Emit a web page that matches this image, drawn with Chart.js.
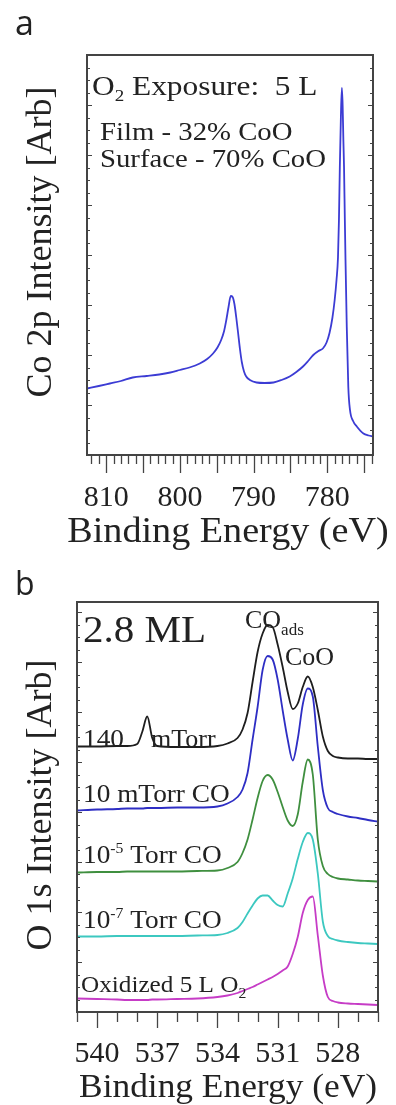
<!DOCTYPE html>
<html>
<head>
<meta charset="utf-8">
<script src="https://cdn.jsdelivr.net/npm/chart.js@4.4.1/dist/chart.umd.min.js"></script>
<style>
  html, body { margin: 0; padding: 0; background: #ffffff; }
  canvas { position: absolute; left: 0; display: block; }
  #chartA { top: 0; }
  #chartB { top: 560px; }
</style>
</head>
<body>
<canvas id="chartA" width="396" height="560"></canvas>
<canvas id="chartB" width="396" height="545"></canvas>
<script>
// ---- Panel a: Co 2p spectrum after 5 L O2 exposure ----
const energyA = [
  812.6, 811.0, 809.5, 808.0, 806.4, 804.5, 802.8, 801.3, 800.0, 798.7,
  797.3, 796.3, 795.5, 794.9, 794.4, 794.0, 793.7, 793.4, 793.1, 792.85,
  792.6, 792.35, 792.1, 791.85, 791.6, 791.3, 791.0, 790.5, 789.6, 788.5,
  787.3, 786.2, 785.1, 784.2, 783.3, 782.6, 781.9, 781.2, 780.6, 780.1,
  779.7, 779.3, 779.0, 778.75, 778.55, 778.42, 778.3, 778.15, 778.02, 777.92,
  777.82, 777.73, 777.62, 777.53, 777.36, 777.15, 776.92, 776.5, 776.0, 775.1,
  774.4, 773.8
];
const co2pIntensity = [
  133, 138, 143, 148, 155, 158, 161, 165, 170, 175,
  183, 192, 203, 215, 230, 248, 270, 296, 318, 316,
  302, 275, 244, 212, 186, 167, 157, 150, 145, 144,
  145, 150, 157, 166, 177, 188, 200, 208, 213, 225,
  244, 275, 310, 350, 395, 470, 576, 680, 734, 700,
  630, 576, 470, 390, 257, 136, 90, 68, 57, 43,
  39, 37
];
const tickLabelsA = [810, 800, 790, 780];

// ---- Panel b: O 1s spectra, 2.8 ML film ----
const energyB = [
  541, 540, 539, 538.5, 538, 537.75, 537.5, 537.25, 537, 536,
  535, 534, 533.5, 533, 532.75, 532.5, 532.25, 532, 531.75, 531.5,
  531.25, 531, 530.75, 530.5, 530.25, 530, 529.75, 529.5, 529.25, 529,
  528.75, 528.5, 528.25, 528, 527.5, 527, 526.5, 526
];
const o1s140mTorr = [
  531, 531, 532, 532, 536, 560, 591, 548, 532, 530,
  530, 532, 537, 548, 565, 598, 660, 720, 757, 774,
  770, 735, 690, 640, 606, 617, 650, 671, 650, 604,
  551, 522, 512, 509, 507, 507, 506, 506
];
const o1s10mTorr = [
  403, 405, 406, 407, 407, 407, 408, 408, 408, 409,
  409, 411, 417, 430, 445, 478, 545, 610, 684, 712,
  705, 665, 603, 545, 503, 546, 615, 647, 631, 531,
  444, 408, 400, 396, 391, 388, 384, 381
];
const o1s1e5Torr = [
  279, 280, 280, 281, 281, 281, 281, 281, 281, 281,
  282, 283, 288, 300, 318, 345, 385, 428, 462, 474,
  465, 440, 410, 383, 372, 395, 460, 505, 475, 345,
  292, 276, 270, 267, 265, 263, 262, 261
];
const o1s1e7Torr = [
  151, 151, 152, 152, 152, 152, 152, 152, 152, 152,
  153, 154, 158, 168, 180, 197, 213, 227, 233, 233,
  223, 214, 211, 237, 267, 306, 340, 358, 345, 277,
  181, 152, 146, 143, 140, 138, 137, 136
];
const o1sOxidized = [
  27, 26, 25, 24, 24, 24, 24, 25, 25, 26,
  27, 30, 33, 38, 42, 46, 50, 55, 60, 65,
  70, 76, 83, 91, 116, 150, 198, 224, 231, 153,
  73, 30, 22, 19, 17, 16, 15, 14
];
const tickLabelsB = [540, 537, 534, 531, 528];

const SERIF = '"Liberation Serif", "Times New Roman", serif';
const SANS = '"Open Sans", "Noto Sans", sans-serif';
const INK = '#222222';
const FRAME = '#444444';

const pts = (xs, ys) => xs.map((x, i) => ({ x: x, y: ys[i] }));

// Draws a run of text pieces (for sub/superscripts), optionally widened by sx.
function textRuns(ctx, x, y, parts, sx) {
  ctx.save();
  ctx.translate(x, y);
  ctx.scale(sx || 1, 1);
  ctx.fillStyle = INK;
  ctx.textBaseline = 'alphabetic';
  ctx.textAlign = 'left';
  let cx = 0;
  for (const p of parts) {
    ctx.font = p.size + 'px ' + (p.family || SERIF);
    ctx.fillText(p.t, cx, p.dy || 0);
    cx += ctx.measureText(p.t).width;
  }
  ctx.restore();
}

function centered(ctx, s, x, y, size, sx) {
  ctx.save();
  ctx.translate(x, y);
  ctx.scale(sx || 1, 1);
  ctx.fillStyle = INK;
  ctx.font = size + 'px ' + SERIF;
  ctx.textAlign = 'center';
  ctx.textBaseline = 'alphabetic';
  ctx.fillText(s, 0, 0);
  ctx.restore();
}

function verticalTitle(ctx, s, x, yCenter, size) {
  ctx.save();
  ctx.translate(x, yCenter);
  ctx.rotate(-Math.PI / 2);
  ctx.fillStyle = INK;
  ctx.font = size + 'px ' + SERIF;
  ctx.textAlign = 'center';
  ctx.textBaseline = 'alphabetic';
  ctx.fillText(s, 0, 0);
  ctx.restore();
}

function seg(ctx, x1, y1, x2, y2) {
  ctx.beginPath();
  ctx.moveTo(x1, y1);
  ctx.lineTo(x2, y2);
  ctx.stroke();
}

// Frame, bottom ticks (long ones where isMajor), small inward y ticks.
function drawFrame(chart, xFrom, xTo, isMajor, longLen, shortLen, yMax) {
  const { ctx, chartArea: a, scales: { x, y } } = chart;
  ctx.save();
  ctx.strokeStyle = FRAME;
  ctx.lineWidth = 1.3;
  for (let v = xFrom; v <= xTo; v++) {
    const px = Math.round(x.getPixelForValue(v)) + 0.5;
    seg(ctx, px, a.bottom, px, a.bottom + (isMajor(v) ? longLen : shortLen));
  }
  ctx.lineWidth = 1;
  for (let v = 25; v < yMax; v += 25) {
    const py = Math.round(y.getPixelForValue(v)) + 0.5;
    const len = v % 100 === 0 ? 5 : 3;
    seg(ctx, a.left, py, a.left + len, py);
    seg(ctx, a.right, py, a.right - len, py);
  }
  ctx.lineWidth = 2;
  ctx.strokeRect(a.left, a.top, a.right - a.left, a.bottom - a.top);
  ctx.restore();
}

const decorA = {
  id: 'decorA',
  afterDraw(chart) {
    const { ctx, scales: { x } } = chart;
    drawFrame(chart, 774, 812, v => v % 5 === 0, 18, 9, 800);
    for (const t of tickLabelsA) centered(ctx, String(t), x.getPixelForValue(t), 506, 30, 1);
    centered(ctx, 'Binding Energy (eV)', 228, 542, 36, 1.06);
    verticalTitle(ctx, 'Co 2p Intensity [Arb]', 51, 242, 36);
    textRuns(ctx, 15, 35, [{ t: 'a', size: 34, family: SANS }]);
    textRuns(ctx, 92, 95, [
      { t: 'O', size: 28 }, { t: '2', size: 17, dy: 6 }, { t: ' Exposure:  5 L', size: 28 }
    ], 1.12);
    textRuns(ctx, 100, 140, [{ t: 'Film - 32% CoO', size: 25 }], 1.15);
    textRuns(ctx, 100, 167, [{ t: 'Surface - 70% CoO', size: 25 }], 1.15);
  }
};

const decorB = {
  id: 'decorB',
  afterDraw(chart) {
    const { ctx, scales: { x } } = chart;
    drawFrame(chart, 526, 541, v => (540 - v) % 3 === 0, 16, 10, 820);
    for (const t of tickLabelsB) centered(ctx, String(t), x.getPixelForValue(t), 502, 30, 1);
    centered(ctx, 'Binding Energy (eV)', 228, 537, 34, 1.04);
    verticalTitle(ctx, 'O 1s Intensity [Arb]', 51, 245, 36);
    textRuns(ctx, 15, 35, [{ t: 'b', size: 32, family: SANS }]);
    textRuns(ctx, 83, 82, [{ t: '2.8 ML', size: 38 }], 1.08);
    textRuns(ctx, 245, 68, [{ t: 'CO', size: 26 }, { t: 'ads', size: 17, dy: 7 }], 1.0);
    textRuns(ctx, 285, 105, [{ t: 'CoO', size: 26 }], 1.0);
    textRuns(ctx, 83, 187, [{ t: '140', size: 26 }], 1.05);
    textRuns(ctx, 151, 187, [{ t: 'mTorr', size: 26 }], 1.0);
    textRuns(ctx, 83, 242, [{ t: '10 mTorr CO', size: 26 }], 1.05);
    textRuns(ctx, 83, 303, [
      { t: '10', size: 26 }, { t: '-5', size: 15, dy: -10 }, { t: ' Torr CO', size: 26 }
    ], 1.05);
    textRuns(ctx, 83, 368, [
      { t: '10', size: 26 }, { t: '-7', size: 15, dy: -10 }, { t: ' Torr CO', size: 26 }
    ], 1.05);
    textRuns(ctx, 81, 432, [
      { t: 'Oxidized 5 L O', size: 24 }, { t: '2', size: 15, dy: 6 }
    ], 1.05);
  }
};

const lineSet = (data, color) => ({
  data: data,
  borderColor: color,
  borderWidth: 1.8,
  pointRadius: 0,
  fill: false,
  cubicInterpolationMode: 'monotone'
});

const baseOptions = (padding, xMin, xMax, yMax) => ({
  responsive: false,
  animation: false,
  events: [],
  layout: { padding: padding },
  plugins: { legend: { display: false }, tooltip: { enabled: false } },
  scales: {
    x: { type: 'linear', reverse: true, min: xMin, max: xMax, display: false },
    y: { type: 'linear', min: 0, max: yMax, display: false }
  }
});

new Chart(document.getElementById('chartA'), {
  type: 'line',
  data: { datasets: [lineSet(pts(energyA, co2pIntensity), '#3c3cd4')] },
  options: baseOptions({ left: 87, right: 23, top: 55, bottom: 105 }, 773.8, 812.6, 800),
  plugins: [decorA]
});

new Chart(document.getElementById('chartB'), {
  type: 'line',
  data: {
    datasets: [
      lineSet(pts(energyB, o1sOxidized), '#c63cc6'),
      lineSet(pts(energyB, o1s1e7Torr), '#3cc8c0'),
      lineSet(pts(energyB, o1s1e5Torr), '#3f8f3f'),
      lineSet(pts(energyB, o1s10mTorr), '#2e2ec4'),
      lineSet(pts(energyB, o1s140mTorr), '#1e1e1e')
    ]
  },
  options: baseOptions({ left: 77, right: 18, top: 42, bottom: 93 }, 526, 541, 820),
  plugins: [decorB]
});
</script>
</body>
</html>
